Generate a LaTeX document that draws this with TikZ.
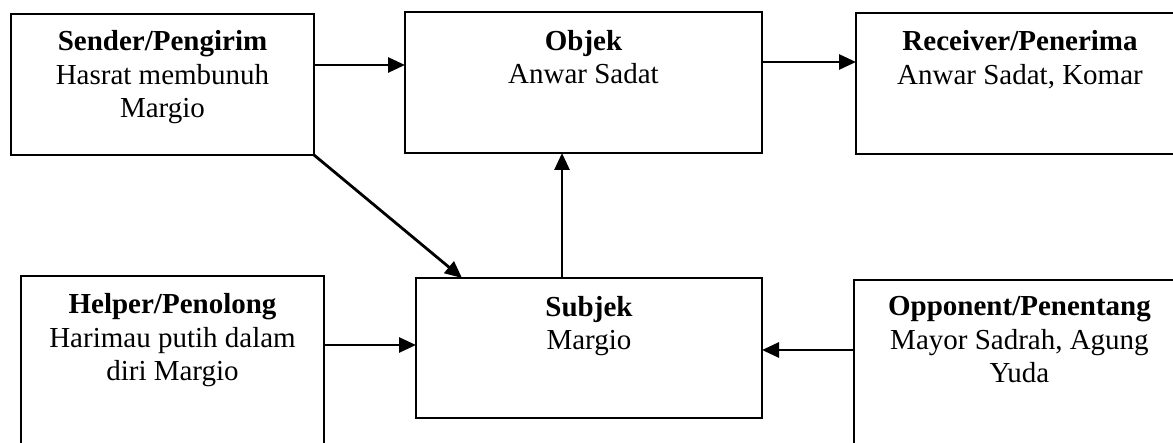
\documentclass[tikz,border=0pt]{standalone}
\usepackage{fontspec}
\setmainfont{Liberation Serif}
\usetikzlibrary{arrows.meta}
\begin{document}
\begin{tikzpicture}[x=1pt,y=-1pt,
  box/.style={draw, line width=2pt, inner sep=0pt, outer sep=0pt},
  % texts are placed by the baseline of their last line
  txt/.style={align=center, inner sep=0pt, anchor=base, font=\fontsize{29}{33.5}\selectfont},
  arr/.style={line width=2.8pt, -{Triangle[length=17pt,width=15pt]}}]
\useasboundingbox (0,0) rectangle (1173,443);
\clip (0,0) rectangle (1173,443);

% actant boxes
\node[box, minimum width=303pt, minimum height=141pt] (sender)   at (162.5,84.5) {};
\node[box, minimum width=357pt, minimum height=141pt] (objek)    at (583.5,82.5) {};
\node[box, minimum width=329pt, minimum height=141pt] (receiver) at (1020.5,83.5) {};
\node[box, minimum width=303pt, minimum height=184pt] (helper)   at (172.5,368) {};
\node[box, minimum width=346pt, minimum height=140pt] (subjek)   at (589,348) {};
\node[box, minimum width=331pt, minimum height=180pt] (opponent) at (1019.5,370) {};

% box texts
\node[txt] (sendertxt)   at (162.5,118)  {\textbf{Sender/Pengirim}\\Hasrat membunuh\\Margio};
\node[txt] (objektxt)    at (583.5,84)   {\textbf{Objek}\\Anwar Sadat};
\node[txt] (receivertxt) at (1020,84.5)  {\textbf{Receiver/Penerima}\\Anwar Sadat, Komar};
\node[txt] (helpertxt)   at (172.5,381)  {\textbf{Helper/Penolong}\\Harimau putih dalam\\diri Margio};
\node[txt] (subjektxt)   at (589,350)    {\textbf{Subjek}\\Margio};
\node[txt] (opponenttxt) at (1019.5,383) {\textbf{Opponent/Penentang}\\Mayor Sadrah, Agung\\Yuda};

% connectors
\draw[arr] (sender.east |- 0,65) -- (objek.west |- 0,65);
\draw[arr] (objek.east |- 0,62) -- (receiver.west |- 0,62);
\draw[arr] (sender.south east) -- (subjek.north -| 462,0);
\draw[arr] (subjek.north -| 562,0) -- (objek.south -| 562,0);
\draw[arr] (helper.east |- 0,345) -- (subjek.west |- 0,345);
\draw[arr] (opponent.west |- 0,350) -- (subjek.east |- 0,350);
\end{tikzpicture}
\end{document}
